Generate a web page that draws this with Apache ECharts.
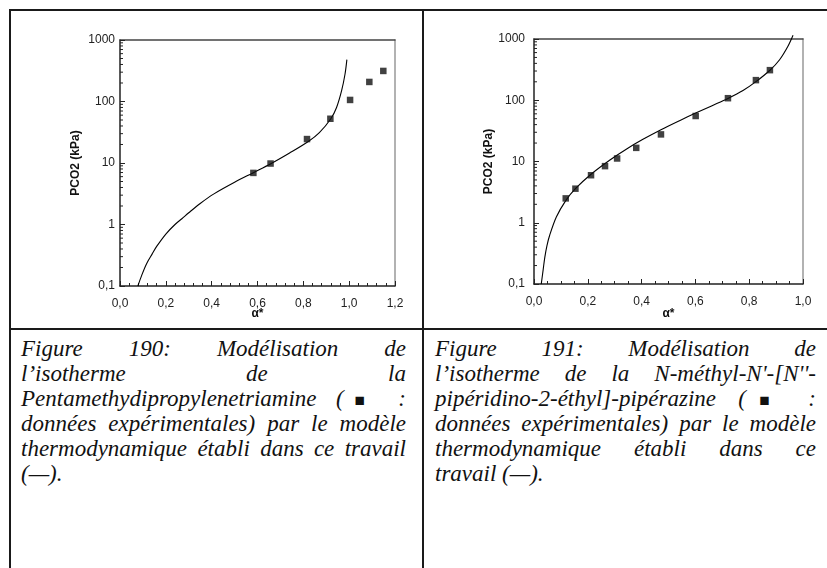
<!DOCTYPE html>
<html>
<head>
<meta charset="utf-8">
<script src="https://cdn.jsdelivr.net/npm/echarts@6/dist/echarts.min.js"></script>
<style>
  body { margin: 0; background: #fff; width: 827px; height: 568px; position: relative; overflow: hidden; }
  #chart { position: absolute; left: 0; top: 0; width: 827px; height: 330px; }
  .bd { position: absolute; background: #1a1a1a; }
  .cap { position: absolute; top: 336px; font-family: "Liberation Serif", "Times New Roman", serif; font-style: italic; font-size: 23px; color: #111; }
  .ln { height: 25px; line-height: 25px; text-align: justify; text-align-last: justify; }
  .ln.last { text-align-last: left; }
  .sq { font-size: 0.75em; font-style: normal; margin-left: -3px; }
</style>
</head>
<body>
<div id="chart"></div>
<div class="bd" style="left:9px;top:9px;width:818px;height:2px"></div>
<div class="bd" style="left:9px;top:9px;width:2px;height:559px"></div>
<div class="bd" style="left:422px;top:9px;width:2px;height:559px"></div>
<div class="bd" style="left:9px;top:328px;width:818px;height:2px"></div>

<div class="cap" style="left:21px;width:385px">
  <div class="ln">Figure 190: Modélisation de</div>
  <div class="ln">l’isotherme de la</div>
  <div class="ln">Pentamethydipropylenetriamine (<span class="sq">■</span> :</div>
  <div class="ln">données expérimentales) par le modèle</div>
  <div class="ln">thermodynamique établi dans ce travail</div>
  <div class="ln last">(—).</div>
</div>
<div class="cap" style="left:435px;width:381px">
  <div class="ln">Figure 191: Modélisation de</div>
  <div class="ln">l’isotherme de la N-méthyl-N'-[N''-</div>
  <div class="ln">pipéridino-2-éthyl]-pipérazine (<span class="sq">■</span> :</div>
  <div class="ln">données expérimentales) par le modèle</div>
  <div class="ln">thermodynamique établi dans ce</div>
  <div class="ln last">travail (—).</div>
</div>

<script>
// ----------------------
// Données
// ----------------------

// Figure 190 : modèle (courbe)
const modelX190 = [0.078, 0.095, 0.116, 0.14, 0.16, 0.20, 0.24, 0.27, 0.30, 0.35, 0.41, 0.50, 0.58, 0.66, 0.74, 0.82, 0.87, 0.92, 0.945, 0.967, 0.982, 0.99];
const modelY190 = [0.1, 0.15, 0.23, 0.33, 0.44, 0.70, 1.0, 1.24, 1.55, 2.2, 3.15, 4.86, 6.9, 9.8, 14.5, 22.1, 31.2, 52.5, 80, 150, 280, 480];
// Figure 190 : points expérimentaux
const expX190 = [0.582, 0.657, 0.816, 0.918, 1.004, 1.088, 1.149];
const expY190 = [6.9, 9.8, 24.5, 52.4, 106, 208, 314];

// Figure 191 : modèle (courbe)
const modelX191 = [0.027, 0.034, 0.040, 0.048, 0.058, 0.083, 0.118, 0.154, 0.212, 0.281, 0.343, 0.405, 0.472, 0.541, 0.601, 0.66, 0.721, 0.777, 0.825, 0.877, 0.913, 0.944, 0.963];
const modelY191 = [0.1, 0.17, 0.27, 0.42, 0.62, 1.24, 2.3, 3.6, 6.2, 10.5, 15.9, 23, 33, 46.4, 61.7, 80.9, 107, 144, 201, 309, 458, 760, 1150];
// Figure 191 : points expérimentaux
const expX191 = [0.118, 0.154, 0.212, 0.264, 0.309, 0.380, 0.472, 0.601, 0.721, 0.825, 0.877];
const expY191 = [2.5, 3.6, 5.97, 8.4, 11.2, 16.7, 27.7, 55.3, 108, 213, 310];

// Graduations secondaires de l'axe log (2..9 par décade)
const logMinorTicks = [0.2, 0.3, 0.4, 0.5, 0.6, 0.7, 0.8, 0.9,
  2, 3, 4, 5, 6, 7, 8, 9,
  20, 30, 40, 50, 60, 70, 80, 90,
  200, 300, 400, 500, 600, 700, 800, 900];

const X_MAX_190 = 1.2;
const X_MAX_191 = 1.0;

// ----------------------
// Helpers
// ----------------------
const zip = (xs, ys) => xs.map((x, i) => [x, ys[i]]);
const comma = v => String(v).replace('.', ',');
const LABEL = { color: '#222', fontFamily: 'Liberation Sans, Arial, sans-serif', fontSize: 12 };
const NAME = { color: '#111', fontFamily: 'Liberation Sans, Arial, sans-serif', fontSize: 12, fontWeight: 'bold' };

function xAxisMain(grid, max, minorSplit, labelMargin, nameGap) {
  return {
    gridIndex: grid, type: 'value', min: 0, max: max, interval: 0.2,
    name: 'α*', nameLocation: 'middle', nameGap: nameGap, nameTextStyle: NAME,
    nameMoveOverlap: false,
    axisLine: { onZero: false, lineStyle: { color: '#222', width: 1.5 } },
    axisTick: { inside: true, length: 5, lineStyle: { color: '#222' } },
    minorTick: { show: true, splitNumber: minorSplit, length: 3, lineStyle: { color: '#222' } },
    axisLabel: Object.assign({ margin: labelMargin, formatter: v => v.toFixed(1).replace('.', ',') }, LABEL),
    splitLine: { show: false }
  };
}

function yAxisMain(grid, labelMargin, nameGap) {
  return {
    gridIndex: grid, type: 'log', logBase: 10, min: 0.1, max: 1000,
    name: 'PCO2 (kPa)', nameLocation: 'middle', nameGap: nameGap, nameTextStyle: NAME,
    axisLine: { onZero: false, lineStyle: { color: '#222', width: 1.5 } },
    axisTick: { inside: true, length: 5, lineStyle: { color: '#222' } },
    axisLabel: Object.assign({ margin: labelMargin, formatter: comma }, LABEL),
    splitLine: { show: false }
  };
}

// bordure haute / droite du cadre
function frameX(grid, max) {
  return {
    gridIndex: grid, type: 'value', position: 'top', min: 0, max: max,
    axisLine: { onZero: false, lineStyle: { color: '#444', width: 1.5 } },
    axisTick: { show: false }, axisLabel: { show: false }, splitLine: { show: false }
  };
}
function frameY(grid) {
  return {
    gridIndex: grid, type: 'log', position: 'right', min: 0.1, max: 1000,
    axisLine: { onZero: false, lineStyle: { color: '#999', width: 1.5 } },
    axisTick: { show: false }, axisLabel: { show: false }, splitLine: { show: false }
  };
}

function modelSeries(idx, data) {
  return {
    type: 'line', xAxisIndex: idx, yAxisIndex: idx, data: data,
    showSymbol: false, smooth: 0.3, clip: false,
    lineStyle: { color: '#000', width: 1.1 }, z: 3
  };
}
function expSeries(idx, data) {
  return {
    type: 'scatter', xAxisIndex: idx, yAxisIndex: idx, data: data,
    symbol: 'rect', symbolSize: 6.5, itemStyle: { color: '#111' }, z: 4
  };
}
function minorTickSeries(idx) {
  return {
    type: 'custom', xAxisIndex: idx, yAxisIndex: idx, silent: true, clip: false,
    data: logMinorTicks.map(v => [0, v]),
    renderItem: (params, api) => {
      const p = api.coord([api.value(0), api.value(1)]);
      return {
        type: 'line',
        shape: { x1: p[0], y1: p[1], x2: p[0] + 3, y2: p[1] },
        style: { stroke: '#222', lineWidth: 1 }
      };
    }
  };
}

// ----------------------
// Graphique
// ----------------------
const chart = echarts.init(document.getElementById('chart'), null, { renderer: 'canvas' });
chart.setOption({
  animation: false,
  grid: [
    { left: 120, top: 40, width: 275, height: 246 },
    { left: 534, top: 39, width: 269, height: 245 }
  ],
  xAxis: [
    xAxisMain(0, X_MAX_190, 5, 12, 22),
    xAxisMain(1, X_MAX_191, 4, 12, 24),
    frameX(0, X_MAX_190),
    frameX(1, X_MAX_191)
  ],
  yAxis: [
    yAxisMain(0, 5, 38),
    yAxisMain(1, 9, 36),
    frameY(0),
    frameY(1)
  ],
  series: [
    modelSeries(0, zip(modelX190, modelY190)),
    expSeries(0, zip(expX190, expY190)),
    minorTickSeries(0),
    modelSeries(1, zip(modelX191, modelY191)),
    expSeries(1, zip(expX191, expY191)),
    minorTickSeries(1)
  ]
});
</script>
</body>
</html>
